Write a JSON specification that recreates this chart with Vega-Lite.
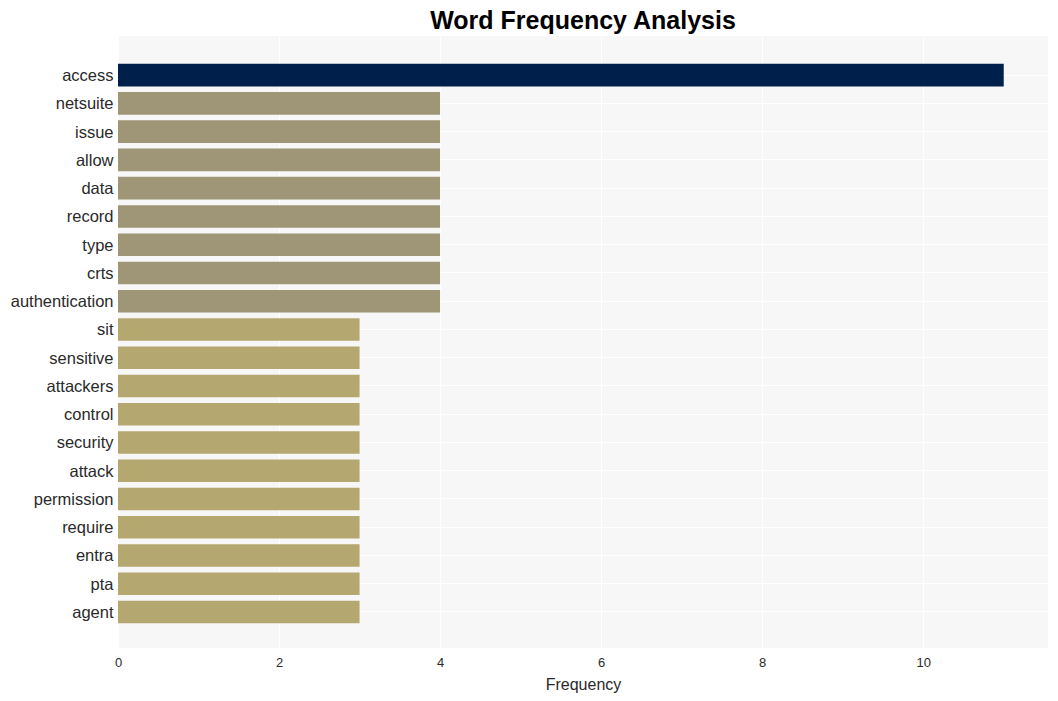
{
  "$schema": "https://vega.github.io/schema/vega-lite/v6.json",
  "autosize": {"type": "none"},
  "width": 930,
  "height": 612,
  "padding": {"left": 118, "top": 36, "right": 10, "bottom": 53},
  "background": "white",
  "config": {
    "view": {"fill": "#f7f7f7", "stroke": null},
    "font": "Liberation Sans"
  },
  "title": {
    "text": "Word Frequency Analysis",
    "fontSize": 25,
    "fontWeight": "bold",
    "color": "#000000",
    "font": "Liberation Sans",
    "anchor": "middle",
    "offset": 2
  },
  "data": {
    "values": [
      {"word": "access", "count": 11},
      {"word": "netsuite", "count": 4},
      {"word": "issue", "count": 4},
      {"word": "allow", "count": 4},
      {"word": "data", "count": 4},
      {"word": "record", "count": 4},
      {"word": "type", "count": 4},
      {"word": "crts", "count": 4},
      {"word": "authentication", "count": 4},
      {"word": "sit", "count": 3},
      {"word": "sensitive", "count": 3},
      {"word": "attackers", "count": 3},
      {"word": "control", "count": 3},
      {"word": "security", "count": 3},
      {"word": "attack", "count": 3},
      {"word": "permission", "count": 3},
      {"word": "require", "count": 3},
      {"word": "entra", "count": 3},
      {"word": "pta", "count": 3},
      {"word": "agent", "count": 3}
    ]
  },
  "mark": {"type": "bar"},
  "encoding": {
    "y": {
      "field": "word",
      "type": "nominal",
      "sort": null,
      "scale": {"paddingInner": 0.2, "paddingOuter": 0.93, "align": 0.53},
      "axis": {
        "title": null,
        "ticks": false,
        "domain": false,
        "labelFontSize": 16.5,
        "labelColor": "#2a2a2a",
        "labelPadding": 5,
        "labelOffset": 1,
        "grid": true,
        "gridColor": "#ffffff",
        "gridWidth": 1,
        "bandPosition": 0.5
      }
    },
    "x": {
      "field": "count",
      "type": "quantitative",
      "scale": {"domain": [0, 11.55], "nice": false},
      "axis": {
        "title": "Frequency",
        "titleFontSize": 16,
        "titleFontWeight": "normal",
        "titleColor": "#2a2a2a",
        "titlePadding": 7,
        "values": [0, 2, 4, 6, 8, 10],
        "ticks": false,
        "domain": false,
        "labelFlush": false,
        "labelFontSize": 13,
        "labelColor": "#2a2a2a",
        "labelPadding": 8,
        "grid": true,
        "gridColor": "#ffffff",
        "gridWidth": 1
      }
    },
    "color": {
      "field": "count",
      "type": "ordinal",
      "scale": {"domain": [3, 4, 11], "range": ["#b5a770", "#9e9677", "#00204c"]},
      "legend": null
    }
  }
}
